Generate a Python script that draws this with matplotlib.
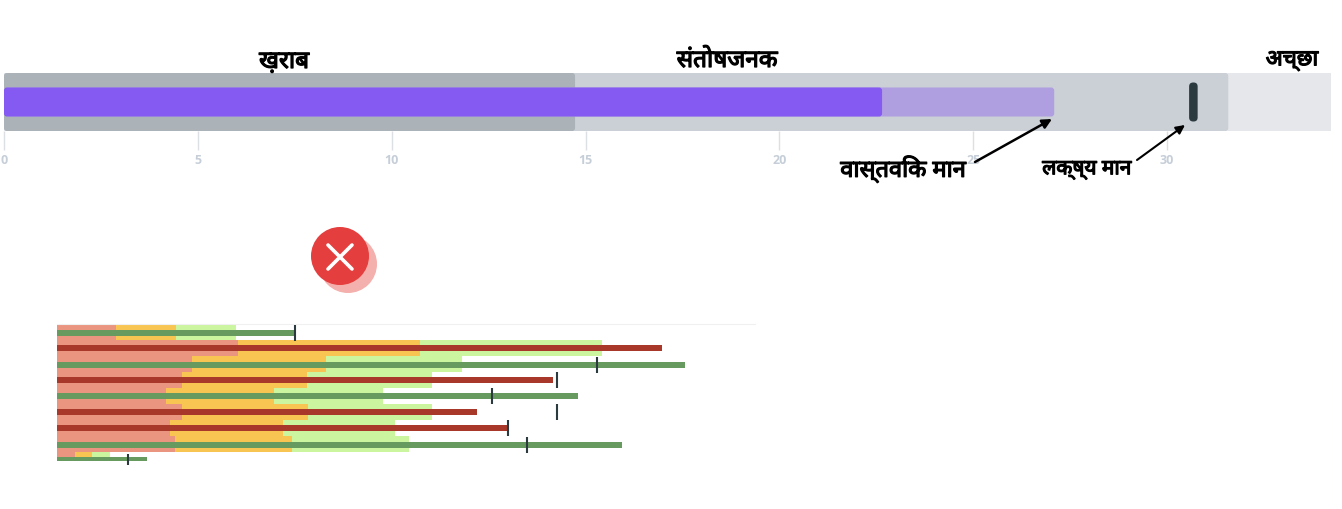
import matplotlib
matplotlib.use("Agg")
import matplotlib.pyplot as plt
import matplotlib.patheffects as pe
from matplotlib.patches import FancyBboxPatch, Circle

W, H = 1342, 509
plt.rcParams['font.family'] = ['Noto Sans', 'DejaVu Sans']

# Top bullet chart
top_bands = [14.73, 31.58, 34.23]
top_actual_dark = 22.65
top_actual_light = 27.09
top_target = 30.68
top_ticks = [0, 5, 10, 15, 20, 25, 30]
zone_labels = ['ख़राब', 'संतोषजनक', 'अच्छा']
callouts = ['वास्तविक मान', 'लक्ष्य मान']

# Bottom bullet chart (values in chart units)
bad = [59, 181, 135, 125, 109, 125, 113, 118, 18]
sat = [119, 363, 269, 250, 217, 251, 226, 235, 35]
good = [179, 545, 405, 375, 326, 375, 338, 352, 53]
actual = [238, 605, 628, 496, 521, 420, 450, 565, 90]
target = [238, None, 540, 500, 435, 500, 451, 470, 71]
hit = [True, False, True, False, True, False, False, True, True]

fig = plt.figure(figsize=(W / 100, H / 100), dpi=100, facecolor='white')


def px_axes(l, t, r, b):
    a = fig.add_axes([l / W, 1 - b / H, (r - l) / W, (b - t) / H])
    a.patch.set_alpha(0)
    return a


# ---- top chart: x in value units, y in pixels
ax = px_axes(4, 60, 1331, 131)
xmax = top_bands[-1]
ax.set_xlim(0, xmax)
ax.set_ylim(131, 60)
asp = (1327 / xmax)


def rbar(a, x0, x1, yc, h, color, rad=3.0, z=2):
    a.add_patch(FancyBboxPatch((x0, yc - h / 2), x1 - x0, h,
                               boxstyle=f"round,pad=0,rounding_size={rad / asp}",
                               mutation_aspect=asp, fc=color, ec='none', zorder=z))


ax.barh(102, top_bands[2], height=58, color='#E6E7EA', zorder=1)
rbar(ax, 0, top_bands[1], 102, 58, '#CBCFD6', z=1.2)
rbar(ax, 0, top_bands[0], 102, 58, '#ABB2B8', z=1.4)
rbar(ax, 0, top_actual_light, 102, 29, '#B09FE0', z=2)
rbar(ax, 0, top_actual_dark, 102, 29, '#855AF2', z=2.2)
rbar(ax, top_target - 0.11, top_target + 0.11, 102, 39, '#2B3A3F', rad=4, z=3)
for s in ax.spines.values():
    s.set_visible(False)
ax.set_yticks([])
ax.set_xticks(top_ticks)
ax.tick_params(axis='x', length=14, width=1, color='#DCE0E5', labelcolor='#C6CED8',
               labelsize=9, pad=2.5)
for t in ax.get_xticklabels():
    t.set_fontweight('bold')
    t.set_fontfamily('Open Sans')

# ---- bottom chart
bx = px_axes(57, 324, 755, 470)
bx.set_xlim(0, 698)
bx.set_ylim(146, 0)
band_top = [0, 16, 32, 48, 64, 80, 96, 112, 126]
band_h = [17, 16, 16, 16, 16, 16, 16, 16, 8]
bar_c = [9, 24, 41, 56, 72, 88, 104, 121, 135]
bar_h = [6, 6, 6, 6, 6, 6, 6, 6, 4]
tick_h = [16, 0, 16, 16, 16, 16, 16, 16, 11]
for i in range(len(actual)):
    c = band_top[i] + band_h[i] / 2
    bx.barh(c, good[i], height=band_h[i], color='#CBF59F', zorder=1)
    bx.barh(c, sat[i], height=band_h[i], color='#F8C552', zorder=1.1)
    bx.barh(c, bad[i], height=band_h[i], color='#E9957F', zorder=1.2)
    bx.barh(bar_c[i], actual[i], height=bar_h[i],
            color='#669A5E' if hit[i] else '#A8382A', zorder=2)
    if target[i] is not None:
        bx.vlines(target[i], bar_c[i] - tick_h[i] / 2, bar_c[i] + tick_h[i] / 2,
                  color='#2B3A3F', lw=1.5, zorder=3)
for s in bx.spines.values():
    s.set_visible(False)
bx.spines['top'].set_visible(True)
bx.spines['top'].set_color('#F0F0F0')
bx.set_xticks([])
bx.set_yticks([])

# ---- overlay in pixels: labels, arrows, icon
ov = fig.add_axes([0, 0, 1, 1])
ov.set_xlim(0, W)
ov.set_ylim(H, 0)
ov.axis('off')
ov.patch.set_alpha(0)
heavy = [pe.withStroke(linewidth=0.9, foreground='black')]
for lab, x, y, fs in zip(zone_labels, [284, 727, 1292], [62, 61, 61], [17.5, 17.5, 16]):
    ov.text(x, y, lab, ha='center', va='center', fontsize=fs, color='black', path_effects=heavy)
ov.text(903, 169, callouts[0], ha='center', va='center', fontsize=17, color='black', path_effects=heavy)
ov.text(1087, 169, callouts[1], ha='center', va='center', fontsize=15, color='black', path_effects=heavy)
ov.annotate('', xy=(1052, 119), xytext=(975, 162),
            arrowprops=dict(arrowstyle='-|>', color='black', lw=1.8, shrinkA=0, shrinkB=0,
                            mutation_scale=14))
ov.annotate('', xy=(1185, 125), xytext=(1137, 160),
            arrowprops=dict(arrowstyle='-|>', color='black', lw=1.5, shrinkA=0, shrinkB=0,
                            mutation_scale=13))
ov.add_patch(Circle((348, 264), 29, fc='#F4B0AC', ec='none'))
ov.add_patch(Circle((340, 256), 29, fc='#E53E3E', ec='none'))
ov.plot([328, 352], [245, 269], color='white', lw=2.6, solid_capstyle='round')
ov.plot([328, 352], [269, 245], color='white', lw=2.6, solid_capstyle='round')

fig.savefig('out.png', dpi=100)
